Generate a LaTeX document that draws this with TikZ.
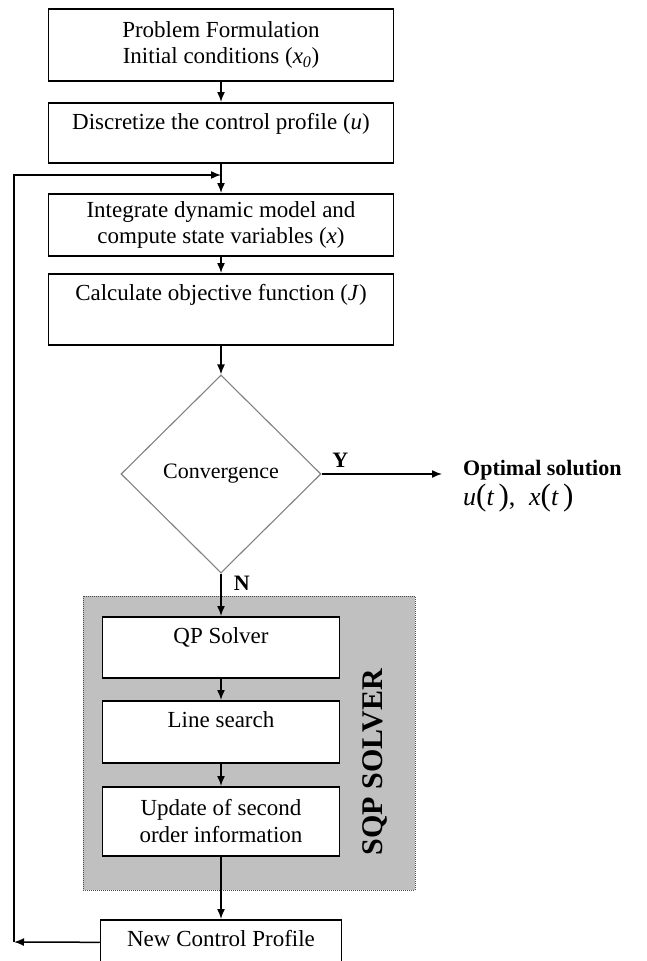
\documentclass[tikz,border=0pt]{standalone}
\usepackage{fontspec}
\setmainfont{Liberation Serif}
\usepackage{tikz}
\usetikzlibrary{arrows.meta,shapes.geometric}

\newcommand{\argt}{{\fontsize{31}{31}\selectfont(}\textit{t}\,{\fontsize{31}{31}\selectfont)}}

\tikzset{
    box/.style={draw,line width=1.5pt,fill=white,minimum width=345pt,inner xsep=0pt,inner ysep=4pt,anchor=north,font=\fontsize{23}{26.5}\selectfont},
    onerow/.style={text height=23pt,text depth=#1},
    conv/.style={diamond,draw=gray,line width=1.1pt,minimum width=200pt,minimum height=198pt,inner sep=0pt,font=\fontsize{22}{26}\selectfont},
    sqp/.style={draw=gray!60!black,densely dotted,line width=1pt,fill={rgb,255:red,192;green,192;blue,192},minimum width=332pt,minimum height=294pt,inner sep=0pt},
    lbl/.style={font=\fontsize{22}{26}\selectfont\bfseries,inner sep=1pt},
    flow/.style={-{Latex[length=10pt,width=8pt]},line width=1.5pt}
}

\begin{document}
\begin{tikzpicture}[x=1pt,y=-1pt]
        \useasboundingbox (0,0) rectangle (646,961);
        \clip (0,0) rectangle (646,961);

        \node[sqp] (sqp) at (249,743) {};
        \node[rotate=90,font=\fontsize{30}{32}\selectfont\bfseries] (sqplab) at (375,762) {SQP SOLVER};

        \node[box,align=center,minimum height=72pt] (prob) at (221,8) {Problem Formulation\\Initial conditions (\textit{x\textsubscript{0}})};
        \node[box,onerow=29pt] (disc) at (221,102) {Discretize the control profile (\textit{u})};
        \node[box,align=center,minimum height=62pt] (integ) at (221,193) {Integrate dynamic model and\\compute state variables (\textit{x})};
        \node[box,onerow=40pt] (objf) at (221,273) {Calculate objective function (\textit{J})};
        \node[conv] (conv) at (221,474) {Convergence};
        \node[box,minimum width=237pt,onerow=30pt] (qp) at (221,616) {QP Solver};
        \node[box,minimum width=237pt,onerow=31pt] (ls) at (221,700) {Line search};
        \node[box,minimum width=237pt,align=center,minimum height=69pt] (upd) at (221,786) {Update of second\\order information};
        \node[box,minimum width=241pt,onerow=15pt] (newcp) at (221,919) {New Control Profile};
        \node[anchor=west,align=left,inner sep=0pt,font=\fontsize{22}{30}\selectfont] (opt) at (463,486) {\textbf{Optimal solution}\\{\fontsize{26}{30}\selectfont\textit{u}\argt,\; \textit{x}\argt}};

        \draw[flow] (prob) -- (disc);
        \draw[flow] (disc) -- (integ);
        \draw[flow] (integ) -- (objf);
        \draw[flow] (objf) -- (conv);
        \draw[flow] (conv) -- node[pos=0,anchor=north west,lbl,xshift=11pt,yshift=-1pt] {N} (qp);
        \draw[flow,shorten >=21pt] (conv) -- node[pos=0,anchor=south west,lbl,xshift=9pt,yshift=5pt] {Y} (conv -| opt.west);
        \draw[flow] (qp) -- (ls);
        \draw[flow] (ls) -- (upd);
        \draw[flow] (upd) -- (newcp);

        \coordinate (fbl) at (14,942);
        \coordinate (fbin) at (221,175);
        \draw[flow] (newcp) -- (fbl);
        \draw[flow] (fbl) |- (fbin);
\end{tikzpicture}
\end{document}
